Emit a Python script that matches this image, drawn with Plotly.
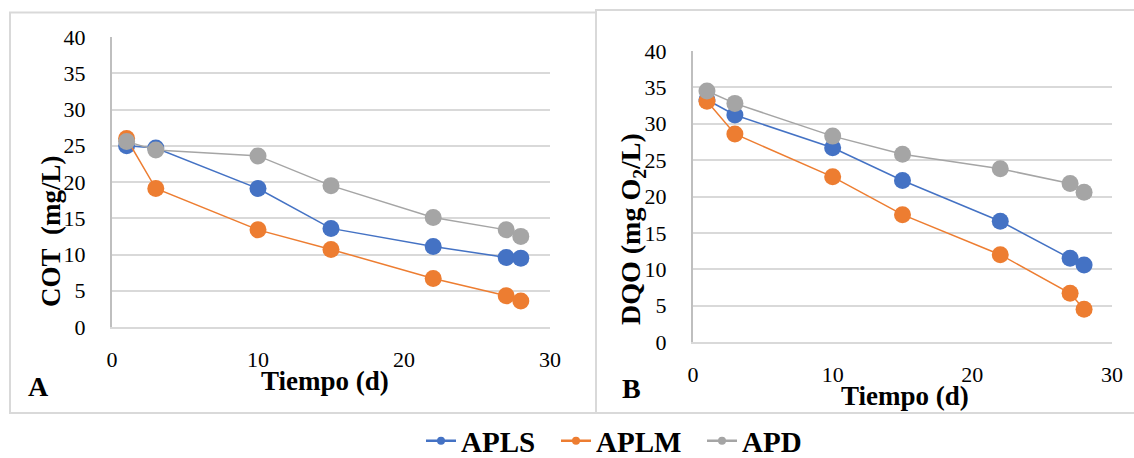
import plotly.graph_objects as go

W, H = 1134, 458

days = [1, 3, 10, 15, 22, 27, 28]
series_names = ["APLS", "APLM", "APD"]
colors = ["#4472C4", "#ED7D31", "#A5A5A5"]

cot_apls = [25.0, 24.7, 19.1, 13.6, 11.1, 9.6, 9.5]
cot_aplm = [26.0, 19.1, 13.4, 10.7, 6.7, 4.3, 3.6]
cot_apd = [25.6, 24.4, 23.6, 19.5, 15.1, 13.4, 12.5]

dqo_apls = [33.3, 31.2, 26.7, 22.2, 16.6, 11.5, 10.6]
dqo_aplm = [33.1, 28.6, 22.7, 17.5, 12.0, 6.7, 4.5]
dqo_apd = [34.5, 32.8, 28.3, 25.8, 23.8, 21.8, 20.6]

x_ticks = [0, 10, 20, 30]
y_ticks = [0, 5, 10, 15, 20, 25, 30, 35, 40]

FONT = "Liberation Serif"

def px_x(p):
    return p / W

def px_y(p):
    return 1 - p / H

fig = go.Figure()

cot = [cot_apls, cot_aplm, cot_apd]
dqo = [dqo_apls, dqo_aplm, dqo_apd]

for vals, c, n in zip(cot, colors, series_names):
    fig.add_trace(go.Scatter(x=days, y=vals, mode="lines+markers", name=n,
                             line=dict(color=c, width=1.5),
                             marker=dict(color=c, size=17),
                             xaxis="x", yaxis="y", showlegend=False))
for vals, c, n in zip(dqo, colors, series_names):
    fig.add_trace(go.Scatter(x=days, y=vals, mode="lines+markers", name=n,
                             line=dict(color=c, width=1.5),
                             marker=dict(color=c, size=17),
                             xaxis="x2", yaxis="y2", showlegend=False))

legend_keys = ["legend", "legend2", "legend3"]
legend_x = [427, 562, 708]
for n, c, lk in zip(series_names, colors, legend_keys):
    fig.add_trace(go.Scatter(x=[None], y=[None], mode="lines+markers",
                             name="<b>" + n + "</b>",
                             line=dict(color=c, width=2.5),
                             marker=dict(color=c, size=8),
                             xaxis="x", yaxis="y", showlegend=True, legend=lk))

lay_legends = {}
for lk, lx in zip(legend_keys, legend_x):
    lay_legends[lk] = dict(x=px_x(lx - 6), y=px_y(441), orientation="h",
                           yanchor="middle", xanchor="left",
                           bgcolor="rgba(0,0,0,0)", borderwidth=0,
                           font=dict(family=FONT, size=29, color="#000000"))

tickfont = dict(family=FONT, size=22, color="#000000")

fig.update_layout(
    width=W, height=H,
    margin=dict(l=0, r=0, t=0, b=0, autoexpand=False),
    paper_bgcolor="white", plot_bgcolor="white",
    font=dict(family=FONT, color="#000000"),
    xaxis=dict(domain=[px_x(112), px_x(550)], range=[0, 30], tickvals=x_ticks,
               anchor="y", ticklabelstandoff=12, showgrid=False, zeroline=False,
               ticks="", showline=True, linecolor="#D9D9D9", linewidth=2,
               tickfont=tickfont, automargin=False),
    yaxis=dict(domain=[px_y(327), px_y(37)], range=[0, 40], tickvals=y_ticks,
               anchor="x", ticklabelstandoff=20, showgrid=True,
               gridcolor="#D9D9D9", gridwidth=1.5, zeroline=False, ticks="",
               showline=True, linecolor="#BFBFBF", linewidth=2,
               tickfont=tickfont, automargin=False),
    xaxis2=dict(domain=[px_x(693), px_x(1112)], range=[0, 30], tickvals=x_ticks,
                anchor="y2", ticklabelstandoff=12, showgrid=False, zeroline=False,
                ticks="", showline=True, linecolor="#D9D9D9", linewidth=2,
                tickfont=tickfont, automargin=False),
    yaxis2=dict(domain=[px_y(342), px_y(51)], range=[0, 40], tickvals=y_ticks,
                anchor="x2", ticklabelstandoff=20, showgrid=True,
                gridcolor="#D9D9D9", gridwidth=1.5, zeroline=False, ticks="",
                showline=True, linecolor="#BFBFBF", linewidth=2,
                tickfont=tickfont, automargin=False),
    **lay_legends,
)

shapes = [
    dict(type="rect", xref="paper", yref="paper",
         x0=px_x(10), x1=px_x(596), y0=px_y(413), y1=px_y(12.5),
         line=dict(color="#D9D9D9", width=2), layer="below"),
    dict(type="rect", xref="paper", yref="paper",
         x0=px_x(596), x1=px_x(1140), y0=px_y(413), y1=px_y(10),
         line=dict(color="#D9D9D9", width=2), layer="below"),
]
fig.update_layout(shapes=shapes)

ann = [
    dict(text="<b>Tiempo (d)</b>", x=px_x(325), y=px_y(381), size=27, angle=0),
    dict(text="<b>Tiempo (d)</b>", x=px_x(905), y=px_y(396), size=27, angle=0),
    dict(text="<b>COT&nbsp;&nbsp;(mg/L)</b>", x=px_x(51), y=px_y(231), size=27, angle=-90),
    dict(text="<b>DQO (mg O<sub>2</sub>/L)</b>", x=px_x(632), y=px_y(229), size=28, angle=-90),
    dict(text="<b>A</b>", x=px_x(38), y=px_y(386), size=28, angle=0),
    dict(text="<b>B</b>", x=px_x(631), y=px_y(388), size=28, angle=0),
]
for a in ann:
    fig.add_annotation(text=a["text"], x=a["x"], y=a["y"], xref="paper", yref="paper",
                       showarrow=False, textangle=a["angle"],
                       xanchor="center", yanchor="middle",
                       font=dict(family=FONT, size=a["size"], color="#000000"))

fig.write_html("out.html")
